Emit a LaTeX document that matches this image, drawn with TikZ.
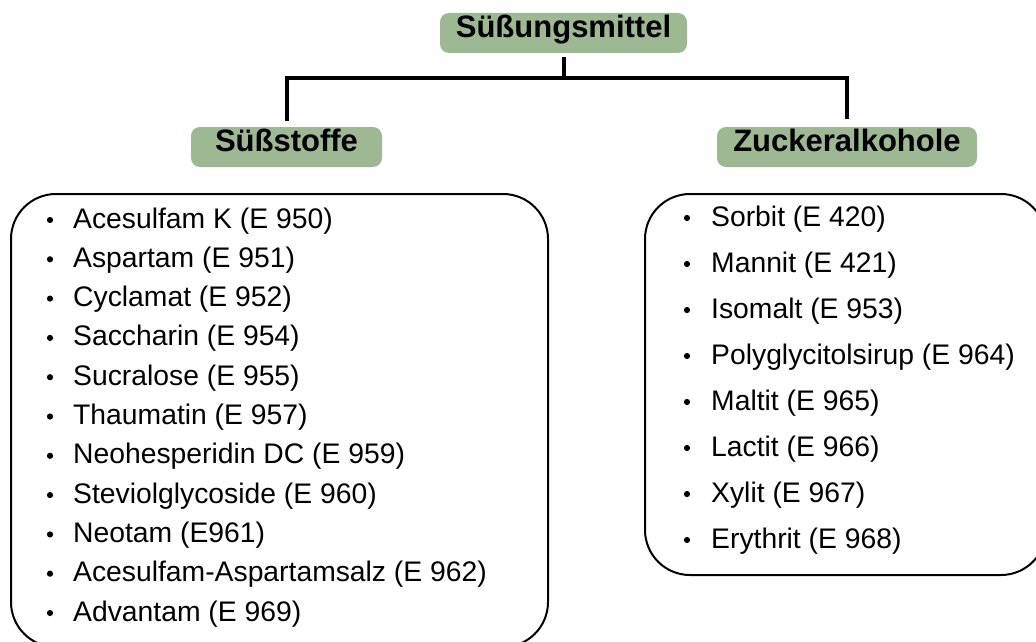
\documentclass[tikz,border=0pt]{standalone}
\usepackage{fontspec}
\setmainfont{Liberation Sans}
\definecolor{headgreen}{RGB}{157,184,146}
\tikzset{
  headbox/.style={fill=headgreen, rounded corners=9pt, inner xsep=0pt, inner ysep=0pt,
    minimum height=40pt, text height=18pt, text depth=9pt,
    font=\fontsize{31}{36}\selectfont\bfseries},
  listbox/.style={draw=black, line width=2pt, rounded corners=45pt, inner sep=0pt},
  itemtext/.style={anchor=base west, inner sep=0pt, font=\fontsize{28.3}{34}\selectfont},
  conn/.style={draw=black, line width=4pt, line join=miter},
  bulletdot/.style={fill=black}
}
\begin{document}
\begin{tikzpicture}[x=1pt,y=-1pt]
\useasboundingbox (0,0) rectangle (1036,642);
% heading boxes
\node[headbox, minimum width=247pt] (top) at (563.5,33) {Süßungsmittel};
\node[headbox, minimum width=191pt] (sus) at (286.5,147) {Süßstoffe};
\node[headbox, minimum width=260pt] (zuck) at (847,147) {Zuckeralkohole};
% connectors
\coordinate (j) at (563.5,78);
\draw[conn] ([yshift=-4pt]top.south) -- (j) -| ([yshift=6pt]sus.north);
\draw[conn] (j) -| ([yshift=8pt]zuck.north);
% list boxes
\node[listbox, minimum width=537pt, minimum height=453pt] (lbox) at (279.5,420.5) {};
\node[listbox, minimum width=401pt, minimum height=381pt] (rbox) at (845.5,384.5) {};
% left items
\foreach \t [count=\i from 0] in {Acesulfam K (E 950), Aspartam (E 951), Cyclamat (E 952),
  Saccharin (E 954), Sucralose (E 955), Thaumatin (E 957), Neohesperidin DC (E 959),
  Steviolglycoside (E 960), Neotam (E961), Acesulfam-Aspartamsalz (E 962), Advantam (E 969)} {
  \node[itemtext] (l\i) at (73,{228+39.3*\i}) {\t};
  \fill[bulletdot] ([xshift=-23pt,yshift=8pt]l\i.base west) circle (3.1pt);
}
% right items
\foreach \t [count=\i from 0] in {Sorbit (E 420), Mannit (E 421), Isomalt (E 953),
  Polyglycitolsirup (E 964), Maltit (E 965), Lactit (E 966), Xylit (E 967), Erythrit (E 968)} {
  \node[itemtext] (r\i) at (711,{226+46*\i}) {\t};
  \fill[bulletdot] ([xshift=-24pt,yshift=8pt]r\i.base west) circle (3.1pt);
}
\end{tikzpicture}
\end{document}
